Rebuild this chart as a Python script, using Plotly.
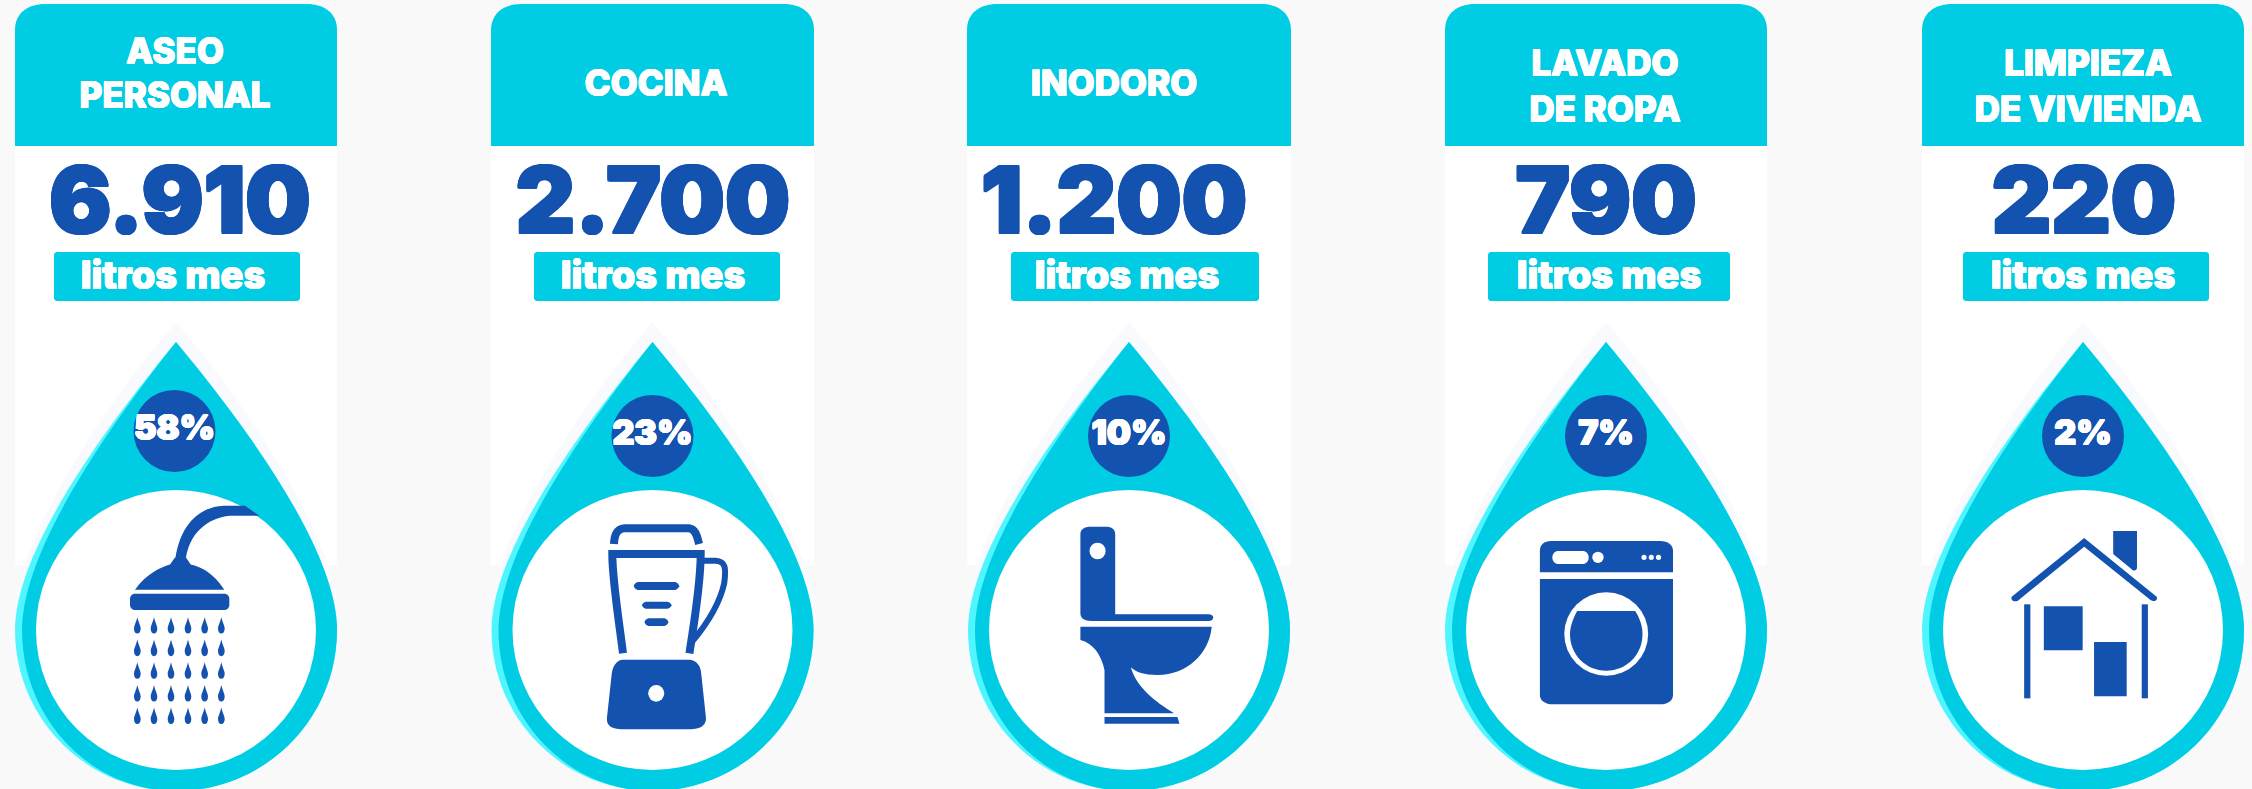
import re
import plotly.graph_objects as go

# ---- data ----
categories = [["ASEO", "PERSONAL"], ["COCINA"], ["INODORO"], ["LAVADO", "DE ROPA"], ["LIMPIEZA", "DE VIVIENDA"]]
litros_mes = [6910, 2700, 1200, 790, 220]
porcentaje = [58, 23, 10, 7, 2]
unidad = "litros mes"

# ---- layout constants (pixels) ----
W, H = 2252, 789
CYAN, LIGHT, BLUE, BG, HALO = "#00CCE4", "#4FF6FF", "#1452B0", "#F9F9FA", "#F8FAFE"
FONT = "Inter"
card_l = [15, 491, 967, 1445, 1922]
card_r = [337, 814, 1291, 1767, 2244]
drop_c = [176, 652.5, 1129, 1606, 2083]
pct_y = [431, 436, 436, 436, 436]
cat_x = [175, 656, 1114, 1605, 2088]
cat_y = [[55, 99], [87], [87], [67, 113], [67, 113]]
num_x = [180, 653, 1114, 1606, 2084]
box_l = [54, 534, 1011, 1488, 1963]
box_r = [300, 780, 1259, 1730, 2209]
lit_x = [173, 653, 1127, 1609, 2083]

shapes = []


def add(path, fill=BLUE, line=None, lw=0):
    shapes.append(dict(type="path", path=path, xref="x", yref="y", layer="below",
                       fillcolor=fill if fill else "rgba(0,0,0,0)",
                       line=dict(color=line or "rgba(0,0,0,0)", width=lw)))


def rect(x0, y0, x1, y1, fill):
    shapes.append(dict(type="rect", x0=x0, x1=x1, y0=y0, y1=y1, xref="x", yref="y", layer="below",
                       fillcolor=fill, line=dict(width=0)))


def ell(cx, cy, rx, ry, fill):
    shapes.append(dict(type="circle", x0=cx - rx, x1=cx + rx, y0=cy - ry, y1=cy + ry, xref="x", yref="y",
                       layer="below", fillcolor=fill, line=dict(width=0)))


def rrect(x0, y0, x1, y1, r, fill=BLUE):
    k = r * 0.45
    add(f"M{x0+r},{y0} L{x1-r},{y0} C{x1-k},{y0} {x1},{y0+k} {x1},{y0+r} L{x1},{y1-r} C{x1},{y1-k} {x1-k},{y1} {x1-r},{y1} "
        f"L{x0+r},{y1} C{x0+k},{y1} {x0},{y1-k} {x0},{y1-r} L{x0},{y0+r} C{x0},{y0+k} {x0+k},{y0} {x0+r},{y0} Z", fill)


def drop(cx, tip, hl, hr, fill, cy=630.0):
    """Teardrop with a pointed top and a round bottom."""
    k = 0.5523
    bot = cy + 161
    sl, sr = hl / 161, hr / 161
    add(f"M{cx},{tip} C{cx+90*sr},{tip+108} {cx+hr},{cy-70} {cx+hr},{cy} "
        f"C{cx+hr},{cy+k*161} {cx+hr*k},{bot} {cx},{bot} "
        f"C{cx-hl*k},{bot} {cx-hl},{cy+k*161} {cx-hl},{cy} "
        f"C{cx-hl},{cy-70} {cx-90*sl},{tip+108} {cx},{tip} Z", fill)


class Z:
    """Converts icon outlines drawn in crop coordinates to page pixels."""

    def __init__(self, ox, oy, sx, sy, dx=0):
        self.ox, self.oy, self.sx, self.sy, self.dx = ox, oy, sx, sy, dx

    def p(self, x, y):
        return x * self.sx + self.ox + self.dx, y * self.sy + self.oy

    def path(self, d):
        nums = iter(re.findall(r"-?\d+\.?\d*|[MLCZ]", d))
        out = []
        for t in nums:
            if t in "MLCZ":
                out.append(t)
            else:
                x, y = self.p(float(t), float(next(nums)))
                out.append(f"{x:.1f},{y:.1f}")
        return " ".join(out)

    def fill(self, d, c=BLUE):
        add(self.path(d), c)

    def stroke(self, d, w):
        add(self.path(d), None, BLUE, w)

    def rr(self, x0, y0, x1, y1, r, c=BLUE):
        a, b = self.p(x0, y0)
        e, f = self.p(x1, y1)
        rrect(a, b, e, f, r, c)

    def el(self, x, y, rx, ry, c="white"):
        a, b = self.p(x, y)
        ell(a, b, rx * self.sx, ry * self.sy, c)


# ---- cards and drops ----
for i in range(5):
    l, r = card_l[i], card_r[i]
    rect(l, 146, r, 565, "white")
    add(f"M{l},146 L{l},30 C{l},13 {l+13},4 {l+30},4 L{r-30},4 C{r-13},4 {r},13 {r},30 L{r},146 Z", CYAN)
    rrect(box_l[i], 252, box_r[i], 301, 3, CYAN)
    c = drop_c[i]
    drop(c, 322, 166, 166, HALO)
    drop(c, 342, 161, 161, LIGHT)
    drop(c, 342, 154, 161, CYAN)
    ell(c, 630, 140, 140, "white")
    ell(c - (1.5 if i == 0 else 0), pct_y[i], 41, 41, BLUE)

# ---- shower ----
z = Z(0, 0, 1 / 3, 0.5032)
z.fill("M525,1118 C535,1050 590,1008 670,1005 L735,1005 L778,1025 L690,1025 C620,1030 565,1060 556,1118 Z")
z.fill("M405,1172 C440,1140 480,1128 510,1122 L525,1108 L558,1108 L572,1122 C610,1128 640,1140 673,1172 Z")
z.rr(390, 1180, 688, 1212, 5)
for cx_ in [412, 462, 513, 564, 614, 664]:
    for cy_ in [1243, 1288, 1333, 1378, 1423]:
        z.fill(f"M{cx_},{cy_-17} C{cx_+4},{cy_-5} {cx_+10},{cy_} {cx_+10},{cy_+6} C{cx_+10},{cy_+12} {cx_+6},{cy_+16} {cx_},{cy_+16} "
               f"C{cx_-6},{cy_+16} {cx_-10},{cy_+12} {cx_-10},{cy_+6} C{cx_-10},{cy_} {cx_-4},{cy_-5} {cx_},{cy_-17} Z")

# ---- blender ----
z = Z(480, 330, 1 / 1.867, 1 / 3)
z.stroke("M250,642 C251,625 252,597 270,595 L390,595 C404,597 406,625 409,642", 8)
z.stroke("M267,970 C260,880 247,750 247,672 L412,672 C412,760 400,880 391,970", 8)
z.stroke("M415,692 L440,692 C458,694 460,712 456,760 C447,825 422,885 396,935", 6)
z.rr(287, 756, 372, 780, 5)
z.rr(302, 815, 358, 836, 5)
z.rr(307, 865, 352, 888, 5)
z.fill("M265,989 L392,989 C405,992 412,1008 413,1030 L422,1165 C422,1188 410,1198 393,1198 L265,1198 C247,1198 236,1188 237,1165 L246,1030 C248,1008 255,992 265,989 Z")
z.el(329, 1090, 15, 25)

# ---- toilet ----
z.fill("M1140,590 L1168,590 C1180,590 1186,598 1186,612 L1186,853 L1360,853 C1372,853 1372,873 1360,873 L1142,873 C1128,873 1121,865 1121,850 L1121,612 C1121,598 1128,590 1140,590 Z")
z.el(1153, 663, 15, 25)
z.fill("M1121,890 L1366,890 C1362,970 1320,1035 1265,1035 C1240,1035 1225,1027 1215,1012 C1225,1070 1260,1115 1296,1150 L1166,1150 L1166,1020 C1160,975 1145,940 1121,930 Z")
z.fill("M1166,1161 L1302,1161 L1306,1181 L1166,1181 Z")

# ---- washing machine ----
z = Z(1440, 330, 1 / 1.931, 1 / 3)
z.fill("M215,633 L425,633 C440,633 450,645 450,662 L450,727 L193,727 L193,662 C193,645 200,633 215,633 Z")
z.rr(217, 663, 287, 702, 6, "white")
z.el(305, 682, 11, 17)
for dx in [394, 408, 422]:
    z.el(dx, 682, 5, 8)
z.fill("M193,747 L450,747 L450,1095 C450,1112 440,1123 425,1123 L218,1123 C203,1123 193,1112 193,1095 Z")
z.el(321, 912, 81, 125)
z.fill("M265,843 L377,843 C388,870 391,895 391,912 C391,975 360,1022 321,1022 C282,1022 251,975 251,912 C251,895 255,870 265,843 Z")

# ---- house ----
z.fill("M1104,800 L1244,624 L1384,800 C1387,812 1378,817 1372,810 L1244,650 L1116,812 C1109,817 1101,811 1104,800 Z")
z.fill("M1300,603 L1346,603 L1346,715 C1344,724 1338,723 1335,717 L1300,672 Z")
for a, b, c_, d in [(1128, 823, 1140, 1105), (1355, 823, 1367, 1105), (1166, 829, 1241, 961), (1263, 936, 1326, 1099)]:
    p0, p1 = z.p(a, b), z.p(c_, d)
    rect(p0[0], p0[1], p1[0], p1[1], BLUE)

# ---- text ----
fig = go.Figure()


def halo(color, d):
    """Text shadow all around, to get as heavy as the reference lettering."""
    return ", ".join(f"{a}px {b}px 0 {color}" for a, b in
                     [(d, 0), (-d, 0), (0, d), (0, -d), (d, d), (-d, -d), (d, -d), (-d, d)])


def text_trace(x, y, text, size, color, weight, d):
    fig.add_trace(go.Scatter(x=x, y=y, text=text, mode="text", textposition="middle center", hoverinfo="skip",
                             showlegend=False, cliponaxis=False,
                             textfont=dict(family=FONT, size=size, color=color, weight=weight, shadow=halo(color, d))))


cx_list, cy_list, labels = [], [], []
for i, lines in enumerate(categories):
    for j, s in enumerate(lines):
        cx_list.append(cat_x[i])
        cy_list.append(cat_y[i][j])
        labels.append(s)
text_trace(cx_list, cy_list, labels, 35, "white", 800, 0.4)
text_trace(num_x, [210] * 5, [f"{v:,}".replace(",", ".") for v in litros_mes], 92, BLUE, 900, 1.2)
text_trace(lit_x, [279] * 5, [unidad] * 5, 38, "white", 800, 0.5)
text_trace([c - (1.5 if i == 0 else 0) for i, c in enumerate(drop_c)], pct_y, [f"{v}%" for v in porcentaje], 34, "white", 900, 0.5)

fig.update_layout(width=W, height=H, margin=dict(l=0, r=0, t=0, b=0), paper_bgcolor=BG, plot_bgcolor=BG,
                  shapes=shapes, showlegend=False,
                  xaxis=dict(range=[0, W], visible=False, fixedrange=True),
                  yaxis=dict(range=[H, 0], visible=False, fixedrange=True))
fig.write_html("out.html", config={"displayModeBar": False},
               post_script="document.body.style.margin='0';document.body.style.overflow='hidden';"
                           "document.body.style.background='#F9F9FA';")
